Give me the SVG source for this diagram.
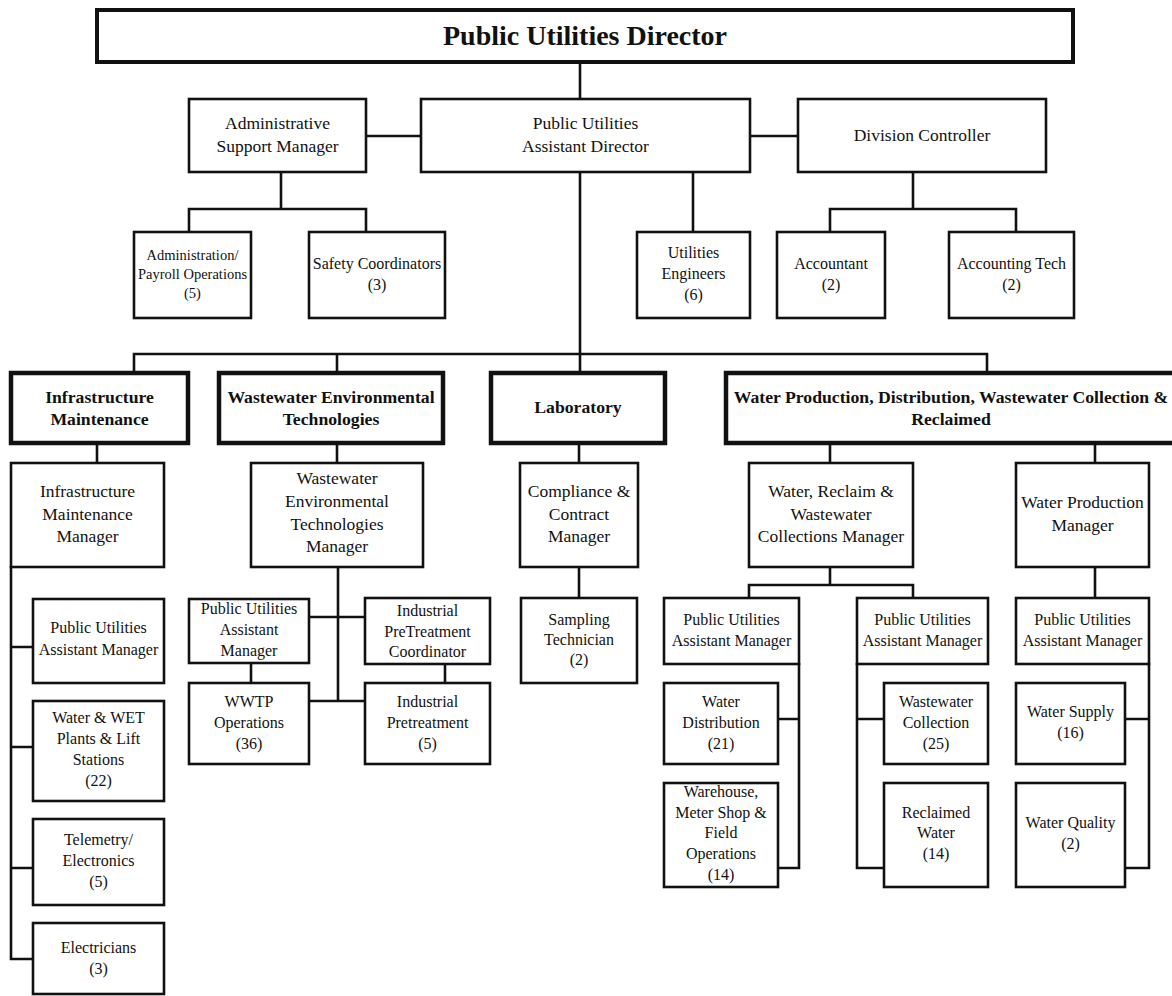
<svg xmlns="http://www.w3.org/2000/svg" width="1172" height="996" viewBox="0 0 1172 996">
  <style>
    .box { fill: #ffffff; stroke: #111111; stroke-width: 2.6; }
    .head { fill: #ffffff; stroke: #111111; stroke-width: 4.5; }
    .top { fill: #ffffff; stroke: #111111; stroke-width: 4; }
    .wire { fill: none; stroke: #111111; stroke-width: 2.6; stroke-linecap: square; }
    text { font-family: 'Liberation Serif', 'Tinos', 'Times New Roman', 'DejaVu Serif', serif; fill: #111111; text-anchor: middle; }
    .t { font-size: 17.5px; }
    .s { font-size: 16px; }
    .xs { font-size: 14.5px; }
    .b { font-size: 17.7px; font-weight: bold; }
    .title { font-size: 28px; font-weight: bold; }
  </style>

  <!-- connectors -->
  <g id="connectors">
    <path class="wire" d="M580,62 V99 M366,136 H421 M750,136 H798"/>
    <path class="wire" d="M281,172 V209 M189,209 H366 M189,209 V232 M366,209 V232"/>
    <path class="wire" d="M693,172 V232"/>
    <path class="wire" d="M913,172 V209 M830,209 H1016 M830,209 V232 M1016,209 V232"/>
    <path class="wire" d="M580,172 V371 M134,354 H987 M134,354 V371 M337,354 V371 M987,354 V371"/>
    <path class="wire" d="M97,445 V463 M337,445 V463 M579,445 V463 M830,445 V463 M1095,445 V463"/>
    <!-- infrastructure spine -->
    <path class="wire" d="M11,567 V959 M11,647 H33 M11,747 H33 M11,868 H33 M11,959 H33"/>
    <!-- wastewater environmental technologies -->
    <path class="wire" d="M338,567 V701 M309,617 H365 M309,701 H365 M251,663 V683 M445,664 V683"/>
    <!-- laboratory -->
    <path class="wire" d="M579,567 V598"/>
    <!-- water, reclaim and wastewater collections -->
    <path class="wire" d="M830,567 V585 M749,585 H913 M749,585 V598 M913,585 V598"/>
    <path class="wire" d="M799,664 V868 M778,719 H799 M778,868 H799"/>
    <path class="wire" d="M857,664 V868 M857,719 H884 M857,868 H884"/>
    <!-- water production -->
    <path class="wire" d="M1095,567 V598 M1149,664 V868 M1125,719 H1149 M1125,868 H1149"/>
  </g>

  <!-- top level -->
  <g id="director">
    <rect class="top" x="97" y="10" width="976" height="52"/>
    <text class="title" x="585" y="45">Public Utilities Director</text>
  </g>
  <g id="admin-support">
    <rect class="box" x="189" y="99" width="177" height="73"/>
    <text class="t" x="277.5" y="129">Administrative</text>
    <text class="t" x="277.5" y="152">Support Manager</text>
  </g>
  <g id="assistant-director">
    <rect class="box" x="421" y="99" width="329" height="73"/>
    <text class="t" x="585.5" y="129">Public Utilities</text>
    <text class="t" x="585.5" y="152">Assistant Director</text>
  </g>
  <g id="division-controller">
    <rect class="box" x="798" y="99" width="248" height="73"/>
    <text class="t" x="922" y="141">Division Controller</text>
  </g>

  <g id="payroll">
    <rect class="box" x="134" y="232" width="117" height="86"/>
    <text class="xs" x="192.5" y="260">Administration/</text>
    <text class="xs" x="192.5" y="279">Payroll Operations</text>
    <text class="xs" x="192.5" y="298">(5)</text>
  </g>
  <g id="safety">
    <rect class="box" x="309" y="232" width="136" height="86"/>
    <text class="s" x="377" y="269">Safety Coordinators</text>
    <text class="s" x="377" y="290">(3)</text>
  </g>
  <g id="engineers">
    <rect class="box" x="637" y="232" width="113" height="86"/>
    <text class="s" x="693.5" y="258">Utilities</text>
    <text class="s" x="693.5" y="279">Engineers</text>
    <text class="s" x="693.5" y="300">(6)</text>
  </g>
  <g id="accountant">
    <rect class="box" x="777" y="232" width="108" height="86"/>
    <text class="s" x="831" y="269">Accountant</text>
    <text class="s" x="831" y="290">(2)</text>
  </g>
  <g id="accounting-tech">
    <rect class="box" x="949" y="232" width="125" height="86"/>
    <text class="s" x="1011.5" y="269">Accounting Tech</text>
    <text class="s" x="1011.5" y="290">(2)</text>
  </g>

  <!-- divisions -->
  <g id="infrastructure">
    <rect class="head" x="11" y="373" width="177" height="70"/>
    <text class="b" x="99.5" y="403">Infrastructure</text>
    <text class="b" x="99.5" y="425">Maintenance</text>
  </g>
  <g id="wastewater-env">
    <rect class="head" x="219" y="373" width="224" height="70"/>
    <text class="b" x="331" y="403">Wastewater Environmental</text>
    <text class="b" x="331" y="425">Technologies</text>
  </g>
  <g id="laboratory">
    <rect class="head" x="491" y="373" width="174" height="70"/>
    <text class="b" x="578" y="413">Laboratory</text>
  </g>
  <g id="water-production-division">
    <rect class="head" x="726" y="373" width="452" height="70"/>
    <text class="b" x="951" y="403">Water Production, Distribution, Wastewater Collection &amp;</text>
    <text class="b" x="951" y="425">Reclaimed</text>
  </g>

  <!-- managers -->
  <g id="infra-manager">
    <rect class="box" x="11" y="463" width="153" height="104"/>
    <text class="t" x="87.5" y="497">Infrastructure</text>
    <text class="t" x="87.5" y="520">Maintenance</text>
    <text class="t" x="87.5" y="542">Manager</text>
  </g>
  <g id="wet-manager">
    <rect class="box" x="251" y="463" width="172" height="104"/>
    <text class="t" x="337" y="484">Wastewater</text>
    <text class="t" x="337" y="507">Environmental</text>
    <text class="t" x="337" y="530">Technologies</text>
    <text class="t" x="337" y="552">Manager</text>
  </g>
  <g id="compliance-manager">
    <rect class="box" x="520" y="463" width="118" height="104"/>
    <text class="t" x="579" y="497">Compliance &amp;</text>
    <text class="t" x="579" y="520">Contract</text>
    <text class="t" x="579" y="542">Manager</text>
  </g>
  <g id="collections-manager">
    <rect class="box" x="749" y="463" width="164" height="104"/>
    <text class="t" x="831" y="497">Water, Reclaim &amp;</text>
    <text class="t" x="831" y="520">Wastewater</text>
    <text class="t" x="831" y="542">Collections Manager</text>
  </g>
  <g id="production-manager">
    <rect class="box" x="1016" y="463" width="133" height="104"/>
    <text class="t" x="1082.5" y="508">Water Production</text>
    <text class="t" x="1082.5" y="531">Manager</text>
  </g>

  <!-- infrastructure units -->
  <g id="infra-assistant">
    <rect class="box" x="33" y="599" width="131" height="84"/>
    <text class="s" x="98.5" y="633">Public Utilities</text>
    <text class="s" x="98.5" y="655">Assistant Manager</text>
  </g>
  <g id="plants-lift">
    <rect class="box" x="33" y="701" width="131" height="100"/>
    <text class="s" x="98.5" y="723">Water &amp; WET</text>
    <text class="s" x="98.5" y="744">Plants &amp; Lift</text>
    <text class="s" x="98.5" y="765">Stations</text>
    <text class="s" x="98.5" y="786">(22)</text>
  </g>
  <g id="telemetry">
    <rect class="box" x="33" y="819" width="131" height="86"/>
    <text class="s" x="98.5" y="845">Telemetry/</text>
    <text class="s" x="98.5" y="866">Electronics</text>
    <text class="s" x="98.5" y="887">(5)</text>
  </g>
  <g id="electricians">
    <rect class="box" x="33" y="923" width="131" height="71"/>
    <text class="s" x="98.5" y="953">Electricians</text>
    <text class="s" x="98.5" y="974">(3)</text>
  </g>

  <!-- wastewater environmental units -->
  <g id="wet-assistant">
    <rect class="box" x="189" y="599" width="120" height="64"/>
    <text class="s" x="249" y="614">Public Utilities</text>
    <text class="s" x="249" y="635">Assistant</text>
    <text class="s" x="249" y="656">Manager</text>
  </g>
  <g id="pretreatment-coordinator">
    <rect class="box" x="365" y="598" width="125" height="66"/>
    <text class="s" x="427.5" y="616">Industrial</text>
    <text class="s" x="427.5" y="637">PreTreatment</text>
    <text class="s" x="427.5" y="657">Coordinator</text>
  </g>
  <g id="wwtp">
    <rect class="box" x="189" y="683" width="120" height="81"/>
    <text class="s" x="249" y="707">WWTP</text>
    <text class="s" x="249" y="728">Operations</text>
    <text class="s" x="249" y="749">(36)</text>
  </g>
  <g id="pretreatment">
    <rect class="box" x="365" y="683" width="125" height="81"/>
    <text class="s" x="427.5" y="707">Industrial</text>
    <text class="s" x="427.5" y="728">Pretreatment</text>
    <text class="s" x="427.5" y="749">(5)</text>
  </g>

  <!-- laboratory unit -->
  <g id="sampling">
    <rect class="box" x="521" y="598" width="116" height="85"/>
    <text class="s" x="579" y="625">Sampling</text>
    <text class="s" x="579" y="645">Technician</text>
    <text class="s" x="579" y="665">(2)</text>
  </g>

  <!-- collections units -->
  <g id="distribution-assistant">
    <rect class="box" x="664" y="598" width="135" height="66"/>
    <text class="s" x="731.5" y="625">Public Utilities</text>
    <text class="s" x="731.5" y="646">Assistant Manager</text>
  </g>
  <g id="water-distribution">
    <rect class="box" x="664" y="683" width="114" height="81"/>
    <text class="s" x="721" y="707">Water</text>
    <text class="s" x="721" y="728">Distribution</text>
    <text class="s" x="721" y="749">(21)</text>
  </g>
  <g id="warehouse">
    <rect class="box" x="664" y="783" width="114" height="104"/>
    <text class="s" x="721" y="797">Warehouse,</text>
    <text class="s" x="721" y="818">Meter Shop &amp;</text>
    <text class="s" x="721" y="838">Field</text>
    <text class="s" x="721" y="859">Operations</text>
    <text class="s" x="721" y="880">(14)</text>
  </g>
  <g id="collection-assistant">
    <rect class="box" x="857" y="598" width="131" height="66"/>
    <text class="s" x="922.5" y="625">Public Utilities</text>
    <text class="s" x="922.5" y="646">Assistant Manager</text>
  </g>
  <g id="wastewater-collection">
    <rect class="box" x="884" y="683" width="104" height="81"/>
    <text class="s" x="936" y="707">Wastewater</text>
    <text class="s" x="936" y="728">Collection</text>
    <text class="s" x="936" y="749">(25)</text>
  </g>
  <g id="reclaimed-water">
    <rect class="box" x="884" y="783" width="104" height="104"/>
    <text class="s" x="936" y="818">Reclaimed</text>
    <text class="s" x="936" y="838">Water</text>
    <text class="s" x="936" y="859">(14)</text>
  </g>

  <!-- production units -->
  <g id="production-assistant">
    <rect class="box" x="1016" y="598" width="133" height="66"/>
    <text class="s" x="1082.5" y="625">Public Utilities</text>
    <text class="s" x="1082.5" y="646">Assistant Manager</text>
  </g>
  <g id="water-supply">
    <rect class="box" x="1016" y="683" width="109" height="81"/>
    <text class="s" x="1070.5" y="717">Water Supply</text>
    <text class="s" x="1070.5" y="738">(16)</text>
  </g>
  <g id="water-quality">
    <rect class="box" x="1016" y="783" width="109" height="104"/>
    <text class="s" x="1070.5" y="828">Water Quality</text>
    <text class="s" x="1070.5" y="849">(2)</text>
  </g>
</svg>
